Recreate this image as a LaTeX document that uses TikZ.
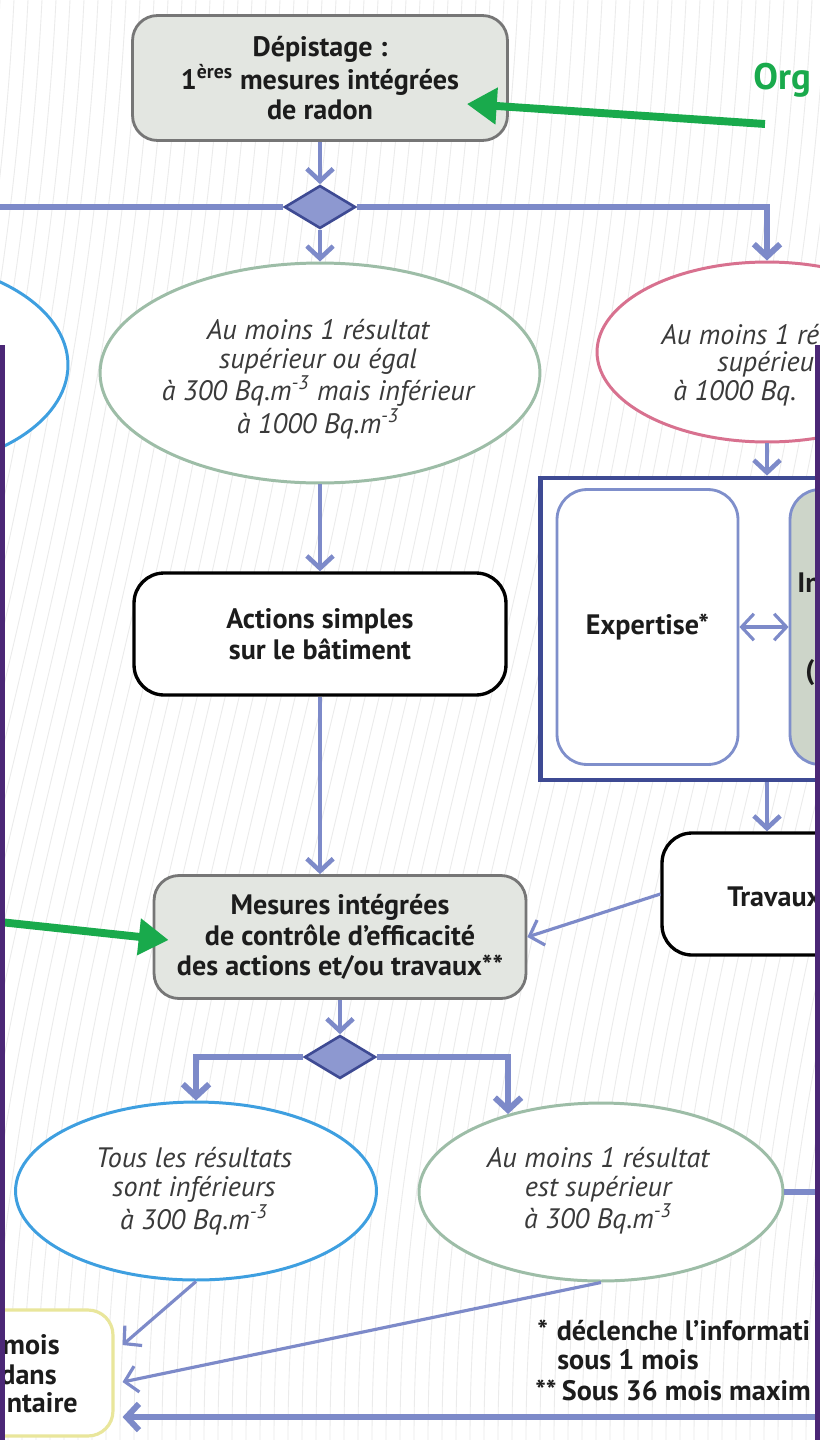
\documentclass[tikz,border=0pt]{standalone}
\usepackage{fontspec}
\setmainfont{PT Sans}
\usetikzlibrary{shapes.geometric,arrows.meta,calc}

\definecolor{flowblue}{HTML}{7D8AC9}
\definecolor{darkblue}{HTML}{3E4A93}
\definecolor{diafill}{HTML}{8D98D0}
\definecolor{boxgray}{HTML}{E3E6E1}
\definecolor{bordergray}{HTML}{767676}
\definecolor{ellgreen}{HTML}{9DBDA7}
\definecolor{ellblue}{HTML}{3E9FE0}
\definecolor{ellpink}{HTML}{D8718F}
\definecolor{arrgreen}{HTML}{19AA4C}
\definecolor{boxyellow}{HTML}{E9E69B}
\definecolor{inbfill}{HTML}{CDD5C9}
\definecolor{inbborder}{HTML}{7F8FCB}
\definecolor{framepurple}{HTML}{4B2776}
\definecolor{txt}{HTML}{1C1C1C}
\definecolor{itxt}{HTML}{3A3A3A}

\begin{document}
\begin{tikzpicture}[x=0.02cm,y=-0.02cm]

      \tikzset{
        graybox/.style={draw=bordergray, fill=boxgray, line width=1.6pt, rounded corners=0.5cm, minimum width=7.5cm, minimum height=2.5cm, align=center, font=\bfseries\fontsize{16}{17.4}\selectfont, text=txt},
        whitebox/.style={draw=black, fill=white, line width=1.9pt, rounded corners=0.6cm, minimum height=2.44cm, align=center, font=\bfseries\fontsize{16}{17.4}\selectfont, text=txt},
        subbox/.style={draw=inbborder, line width=1.6pt, rounded corners=0.6cm, minimum height=5.5cm, font=\bfseries\fontsize{16}{17.4}\selectfont, text=txt},
        result/.style={draw, fill=white, ellipse, line width=1.7pt, inner sep=0pt},
        itext/.style={align=center, inner sep=0pt, font=\itshape\fontsize{16}{16.5}\selectfont, text=itxt},
        btext/.style={inner sep=0pt, font=\bfseries\fontsize{16}{17.4}\selectfont, text=txt},
        choice/.style={draw=darkblue, fill=diafill, diamond, line width=1.5pt, inner sep=0pt, minimum width=1.42cm, minimum height=0.86cm},
        flow/.style={color=flowblue, line width=2.6pt, -{Straight Barb[length=7pt,width=15pt]}},
        branch/.style={flow, line width=3.4pt},
        link/.style={flow, line width=1.8pt},
        push/.style={draw=arrgreen, line width=4.5pt, -{Triangle[length=17pt,width=20pt]}},
        hatch/.style={draw=black!8, line width=0.5pt}
      }
      \useasboundingbox (0,0) rectangle (820,1440);
      \clip (0,0) rectangle (820,1440);
%% Background
      \fill[white] (0,0) rectangle (820,1440);
      \foreach \h in {-300,-286,...,830}
        \draw[hatch] (\h,1440) .. controls (\h,950) and (\h+200,600) .. (\h+230,0);

%% Boxes
      	\node[graybox] (dep) at (320,78) {Dépistage :\\1\textsuperscript{ères} mesures intégrées\\de radon};
      	\node[btext, text=arrgreen, font=\bfseries\fontsize{21}{24}\selectfont, anchor=west] (org) at (753,80) {Org};
      	\node[whitebox, minimum width=7.44cm] (act) at (320,634) {Actions simples\\sur le bâtiment};
      	\node[graybox, minimum width=7.44cm, minimum height=2.46cm] (mes) at (340,937) {Mesures intégrées\\de contrôle d’efficacité\\des actions et/ou travaux**};
      	\node[draw=darkblue, line width=2.8pt, fill=white, minimum width=8.6cm, minimum height=6.04cm] (bigbox) at (755,629) {};
      	\node[subbox, fill=white, minimum width=3.62cm] (exp) at (647.5,627) {Expertise*};
      	\node[subbox, fill=inbfill, minimum width=4.4cm] (inb) at (900,627) {};
      	\node[btext, anchor=west] (inb1) at (797,583) {In};
      	\node[btext, anchor=west] (inb2) at (805,673) {(};
      	\node[whitebox, minimum width=5.52cm] (trav) at (800,894) {};
      	\node[btext, anchor=west] (travt) at (727,897) {Travaux};
      	\node[draw=boxyellow, fill=white, line width=1.8pt, rounded corners=0.5cm, minimum width=5.72cm, minimum height=2.52cm] (yel) at (-30,1373) {};
      	\node[btext, anchor=east] (yel1) at (60,1345) {mois};
      	\node[btext, anchor=east] (yel2) at (57,1375) {dans};
      	\node[btext, anchor=east] (yel3) at (78,1403) {ntaire};
%% Decisions
      	\node[choice] (d1) at (320,207) {};
      	\node[choice] (d2) at (340,1057) {};
%% Results
      	\node[result, draw=ellblue, minimum width=7cm, minimum height=4.2cm] (bl1) at (-107,365) {};
      	\node[result, draw=ellgreen, minimum width=8.8cm, minimum height=4.4cm] (gr1) at (320,373) {};
      	\node[itext] (gr1t) at (318,379) {Au moins 1 résultat\\supérieur ou égal\\à 300 Bq.m\textsuperscript{-3} mais inférieur\\à 1000 Bq.m\textsuperscript{-3}};
      	\node[result, draw=ellpink, minimum width=6.8cm, minimum height=3.6cm] (pk) at (767,352) {};
      	\node[itext, anchor=west] (pk1) at (661,335) {Au moins 1 ré};
      	\node[itext, anchor=west] (pk2) at (717,364) {supérieu};
      	\node[itext, anchor=west] (pk3) at (673,393) {à 1000 Bq.};
      	\node[result, draw=ellblue, minimum width=7.22cm, minimum height=3.56cm] (bl2) at (196,1191) {};
      	\node[itext] (bl2t) at (194,1191) {Tous les résultats\\sont inférieurs\\à 300 Bq.m\textsuperscript{-3}};
      	\node[result, draw=ellgreen, minimum width=7.28cm, minimum height=3.56cm] (gr2) at (601,1192) {};
      	\node[itext] (gr2t) at (598,1191) {Au moins 1 résultat\\est supérieur\\à 300 Bq.m\textsuperscript{-3}};
%% Notes
      	\node[btext, anchor=west] (n1) at (537,1330) {*\hspace{5pt}déclenche l’informati};
      	\node[btext, anchor=west] (n2) at (557,1360) {sous 1 mois};
      	\node[btext, anchor=west] (n3) at (535,1390) {**\hspace{3pt}Sous 36 mois maxim};
      	\coordinate (lft) at (0,207);
      	\coordinate (rgt) at (820,0);
      	\coordinate (orgTail) at (765,124);
      	\coordinate (lftTail) at (0,922);

%Edges
		\path[flow] (dep) edge (d1);
		\path[flow] (d1) edge (gr1);
		\path[flow] (gr1) edge (act);
		\path[flow] (act.south) edge (act.south |- mes.north);
		\path[flow] (mes) edge (d2);
		\draw[branch, -] (d1.west) -- (lft);
		\draw[branch] (d1.east) -| (pk.north);
		\draw[flow] (pk.south) -- (pk.south |- bigbox.north);
		\draw[flow] (bigbox.south -| pk.south) -- (trav.north -| pk.south);
		\path[link, {Straight Barb[length=7pt,width=15pt]}-{Straight Barb[length=7pt,width=15pt]}] (exp) edge (inb);
		\path[link] (trav.west) edge (mes.east);
		\draw[branch] (d2.west) -| (bl2.north);
		\draw[branch] (d2.east) -| (gr2.140);
		\draw[branch, -] (gr2.east) -- (gr2.east -| rgt);
		\path[link] (bl2.south) edge ($(yel.east)+(8,-28)$);
		\path[link] (gr2.south) edge ($(yel.east)+(8,9)$);
		\draw[branch] (rgt |- yel.east) ++(0,44) -- ($(yel.east)+(8,44)$);
		\draw[push] (orgTail) -- ($(dep.east)+(-42,26)$);
		\draw[push] (lftTail) -- ($(mes.west)+(16,3)$);

%% Frame
      \fill[framepurple] (0,345) rectangle (5,1440);
      \fill[framepurple] (815,345) rectangle (820,1440);

	\end{tikzpicture}
\end{document}
